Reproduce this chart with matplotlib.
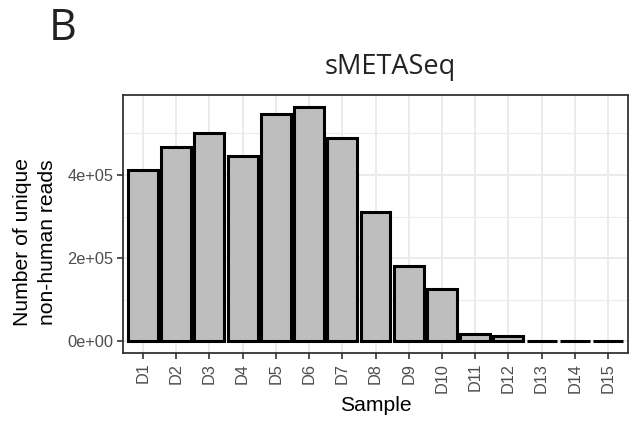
import matplotlib
matplotlib.use("Agg")
import matplotlib.pyplot as plt
from matplotlib.ticker import FixedLocator

samples = ["D1", "D2", "D3", "D4", "D5", "D6", "D7", "D8", "D9", "D10",
           "D11", "D12", "D13", "D14", "D15"]
reads = [411000, 467000, 502000, 445000, 547000, 564000, 490000, 312000,
         182000, 125000, 16700, 13600, 1500, 1500, 1500]
y_ticks = [0, 200000, 400000]
y_tick_labels = ["0e+00", "2e+05", "4e+05"]
y_minor = [100000, 300000, 500000]

plt.rcParams["font.family"] = ["Liberation Sans", "DejaVu Sans"]

fig = plt.figure(figsize=(6.36, 4.23), dpi=100)
ax = fig.add_axes([123 / 636, 1 - 353 / 423, (628 - 123) / 636, (353 - 95) / 423])

x = list(range(1, len(samples) + 1))
ax.bar(x, reads, width=0.9, color="#BEBEBE", edgecolor="black", linewidth=2.2, zorder=3)

ymax = max(reads)
pad = 0.05 * ymax
ax.set_ylim(-pad, ymax + pad)
ax.set_xlim(0.4, len(samples) + 0.6)

ax.set_xticks(x)
ax.set_xticklabels(samples, rotation=90, fontsize=11.8, color="#4D4D4D")
ax.set_yticks(y_ticks)
ax.set_yticklabels(y_tick_labels, fontsize=11.8, color="#4D4D4D")
ax.yaxis.set_minor_locator(FixedLocator(y_minor))

ax.grid(True, which="major", color="#EBEBEB", linewidth=1.4, zorder=0)
ax.grid(True, which="minor", axis="y", color="#EBEBEB", linewidth=0.8, zorder=0)
ax.set_axisbelow(True)
ax.tick_params(axis="both", which="major", length=4, width=1.2, color="#333333", pad=3)
ax.tick_params(axis="y", which="minor", length=0)
for s in ax.spines.values():
    s.set_color("#333333")
    s.set_linewidth(1.3)

ax.set_xlabel("Sample", fontsize=15.2, labelpad=2)
fig.text(35 / 636, 1 - 242 / 423, "Number of unique\nnon-human reads", fontsize=15.2,
         rotation=90, ha="center", va="center", multialignment="center",
         linespacing=1.38, rotation_mode="anchor")

fig.text(390 / 636, 1 - 67 / 423, "sMETASeq", fontsize=19.5, family=["Open Sans", "DejaVu Sans"],
         ha="center", va="center", color="#222222")
fig.text(63 / 636, 1 - 29 / 423, "B", fontsize=31, family=["Open Sans", "DejaVu Sans"],
         ha="center", va="center", color="#222222")

fig.savefig("out.png", dpi=100)
